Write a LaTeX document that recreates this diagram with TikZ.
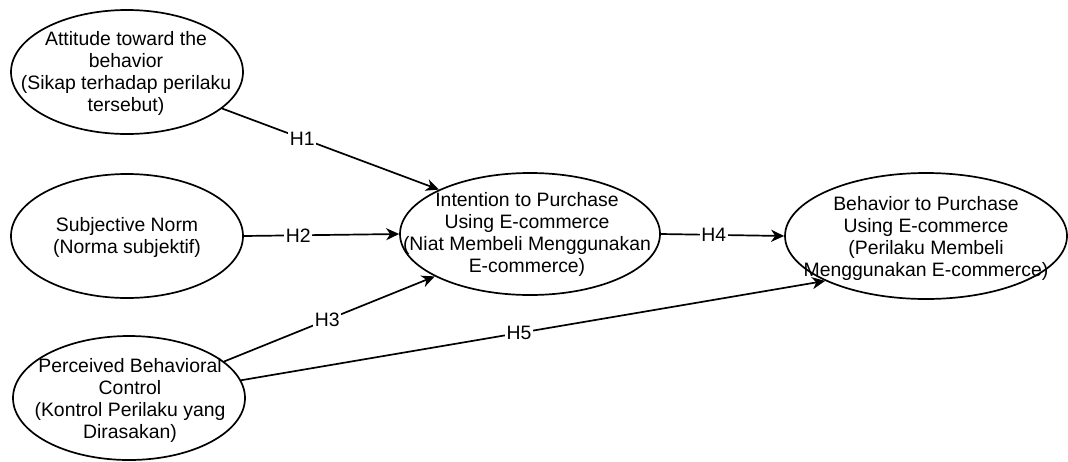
\documentclass[tikz,border=0pt]{standalone}
\usepackage{fontspec}
\setmainfont{Liberation Sans}
\usetikzlibrary{shapes.geometric,arrows.meta}
\begin{document}
\begin{tikzpicture}[x=0.5pt,y=-0.5pt,
  oval/.style={draw, ellipse, line width=0.85pt, inner sep=0pt},
  txt/.style={align=center, inner sep=0pt, font=\fontsize{9.7}{11}\selectfont},
  hyp/.style={fill=white, inner sep=0.8pt, font=\fontsize{9.7}{11}\selectfont},
  conn/.style={line width=0.85pt, -{Stealth[length=6.5pt,width=6pt,inset=2pt]}}]
\useasboundingbox (0,0) rectangle (1068,461);
% ellipses
\node[oval, minimum width=116pt, minimum height=62pt] (e1) at (127,72) {};
\node[oval, minimum width=116pt, minimum height=62pt] (e2) at (127,236) {};
\node[oval, minimum width=116pt, minimum height=62pt] (e3) at (129,398) {};
\node[oval, minimum width=130pt, minimum height=61pt] (e4) at (530,234) {};
\node[oval, minimum width=141pt, minimum height=63pt] (e5) at (926,236) {};
% texts
\node[txt] (t1) at (126,73.5) {Attitude toward the\\behavior\\(Sikap terhadap perilaku\\tersebut)};
\node[txt] (t2) at (127,237) {Subjective Norm\\(Norma subjektif)};
\node[txt] (t3) at (130,400) {Perceived Behavioral\\Control\\(Kontrol Perilaku yang\\Dirasakan)};
\node[txt] (t4) at (527,234) {Intention to Purchase\\Using E-commerce\\(Niat Membeli Menggunakan\\E-commerce)};
\node[txt] (t5) at (926,238) {Behavior to Purchase\\Using E-commerce\\(Perilaku Membeli\\Menggunakan E-commerce)};
% connectors
\draw[conn] (e1.-21.8) -- node[hyp, pos=0.37] (h1) {H1} (e4.154.7);
\draw[conn] (e2.east) -- node[hyp, pos=0.35] (h2) {H2} (e4.west);
\draw[conn] (e3.21.1) -- node[hyp, pos=0.49] (h3) {H3} (e4.204.4);
\draw[conn] (e4.east) -- node[hyp, pos=0.43] (h4) {H4} (e5.west);
\draw[conn] (e3.9) -- node[hyp, pos=0.476] (h5) {H5} (e5.204.1);
\end{tikzpicture}
\end{document}
